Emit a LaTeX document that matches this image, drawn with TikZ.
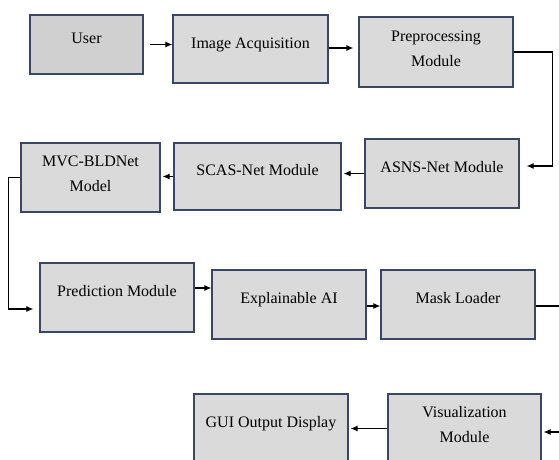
\documentclass[tikz,border=0pt]{standalone}
\usepackage{fontspec}
\setmainfont{Liberation Serif}
\usetikzlibrary{arrows.meta}
\definecolor{boxline}{RGB}{58,70,99}
\definecolor{boxfill}{RGB}{218,218,218}
\definecolor{userfill}{RGB}{208,208,208}
\begin{document}
\begin{tikzpicture}[x=1pt,y=-1pt,>={Latex[length=7pt,width=6pt]},
    blk/.style={draw=boxline,fill=boxfill,line width=1.2pt,inner sep=0pt,
        minimum width=154pt,minimum height=69pt,align=center,
        font=\fontsize{16}{25}\selectfont,text height=12pt,text depth=14pt},
    blktwo/.style={blk,text height=36pt,text depth=8pt},
    conn/.style={->,line width=1.1pt}]

    \useasboundingbox (0,0) rectangle (559,459);
    \clip (0,0) rectangle (559,459);

    % the boxes
    \node[blk,fill=userfill,minimum width=113pt,minimum height=59pt] (user) at (86.5,44.5) {User};
    \node[blk,minimum width=155pt,minimum height=68pt] (acq) at (250.5,49) {Image Acquisition};
    \node[blktwo,minimum height=70pt] (pre) at (436,52) {Preprocessing\\Module};
    \node[blk] (asns) at (442,173.5) {ASNS-Net Module};
    \node[blk,minimum width=167pt,minimum height=67pt] (scas) at (257.5,176.5) {SCAS-Net Module};
    \node[blktwo,minimum width=139pt] (mvc) at (90.5,177.5) {MVC-BLDNet\\Model};
    \node[blk] (pred) at (117,297.5) {Prediction Module};
    \node[blk] (xai) at (289,304.5) {Explainable AI};
    \node[blk] (mask) at (458,304.5) {Mask Loader};
    \node[blk] (gui) at (271,428.5) {GUI Output Display};
    \node[blktwo,minimum width=153pt] (vis) at (464.5,428.5) {Visualization\\Module};

    % the arrows
    \draw[conn,shorten <=6pt] (user.east) -- (user.east -| acq.west);
    \draw[conn,shorten >=5pt] ([yshift=1pt]acq.east) -- ([yshift=1pt]acq.east -| pre.west);
    \draw[conn,shorten >=7pt] (pre.east) -- ++(39,0) |- ([yshift=7.5pt]asns.east);
    \draw[conn,shorten >=2pt] (asns.west) -- (asns.west -| scas.east);
    \draw[conn,shorten >=2pt] (scas.west) -- (scas.west -| mvc.east);
    \draw[conn,shorten >=6pt] (mvc.west) -- ++(-12,0) |- ([yshift=-11.5pt]pred.west);
    \draw[conn] ([yshift=9.5pt]pred.east) -- ([yshift=9.5pt]pred.east -| xai.west);
    \draw[conn] ([yshift=-1.5pt]xai.east) -- ([yshift=-1.5pt]xai.east -| mask.west);
    \draw[conn,shorten >=2pt] ([yshift=-1.5pt]mask.east) -- ++(40,0) |- ([yshift=-3.5pt]vis.east);
    \draw[conn,shorten >=2pt] (vis.west) -- (vis.west -| gui.east);
\end{tikzpicture}
\end{document}
